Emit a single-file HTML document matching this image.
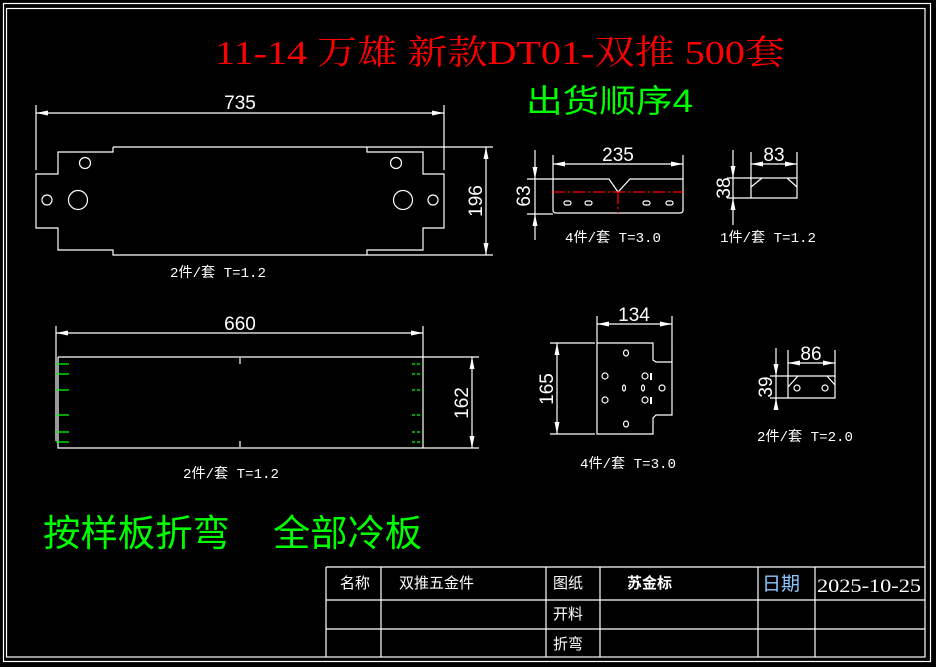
<!DOCTYPE html>
<html><head><meta charset="utf-8"><style>
html,body{margin:0;padding:0;background:#000;}
svg{display:block;}
.s{font-family:"Liberation Sans","Noto Sans CJK SC",sans-serif;}
.m{font-family:"Liberation Mono","Noto Sans CJK SC",monospace;}
.r{font-family:"Liberation Serif","Noto Serif CJK SC",serif;}
</style></head><body>
<svg width="936" height="667" viewBox="0 0 936 667" xmlns="http://www.w3.org/2000/svg">
<rect width="936" height="667" fill="#000"/>
<g fill="none" stroke="#fff" stroke-width="1.2">
<rect x="3.5" y="3.5" width="927" height="658"/>
<rect x="6.5" y="8.5" width="918.5" height="648.5"/>
<path d="M326 567H925 M326 600H925 M326 629H925 M326 567V657 M381 567V657 M546 567V657 M600 567V657 M758 567V657 M815 567V657"/>

<path d="M113 147H367 M113 147V152H58V174H36V228H58V250H113V255H367V250H423V228H444V174H423V152H367V147 M367 147H493 M367 255H493"/>
<circle cx="85" cy="163" r="5.5"/><circle cx="396" cy="163" r="5.5"/>
<circle cx="47" cy="200" r="5"/><circle cx="78" cy="200" r="9.5"/>
<circle cx="403" cy="200" r="9.5"/><circle cx="433" cy="200" r="5"/>
<path d="M36 105V170 M444 105V170 M36 113H444 M486 147V255"/>

<path d="M58 357H423V448H58V357 M56 357V441 M56 326V357 M423 326V357 M56 333H423 M423 357H479 M423 448H479 M472 357V448 M240 358V364 M240 441V447"/>

<path d="M553 179H609L618 192L630 179H683V210Q683 213 680 213H556Q553 213 553 210Z"/>
<path d="M553 155V179 M683 155V179 M553 164H683 M527 179H553 M527 214H553 M535 150V240"/>
<rect x="564" y="201" width="7" height="4" rx="2"/><rect x="585" y="201" width="7" height="4" rx="2"/>
<rect x="643" y="201" width="7" height="4" rx="2"/><rect x="666" y="201" width="7" height="4" rx="2"/>

<path d="M751 178H797V198H751Z M751 187L762 178 M787 178L797 187 M751 152V178 M797 152V178 M751 164H797 M727 178H751 M727 198H751 M733 150V225"/>

<path d="M597 343H653V360L656 362H672V415H656L653 418V434H597Z M597 316V343 M672 316V362 M597 324H672 M550 343H595 M550 434H595 M557 343V434"/>
<ellipse cx="626" cy="353" rx="2.5" ry="3"/><ellipse cx="605" cy="376" rx="3" ry="3"/>
<ellipse cx="645" cy="376" rx="3" ry="3"/><ellipse cx="624" cy="388" rx="1.5" ry="3"/>
<ellipse cx="643" cy="388" rx="1.5" ry="3"/><circle cx="662" cy="388" r="3"/>
<ellipse cx="605" cy="400" rx="3" ry="3"/><ellipse cx="645" cy="400" rx="3" ry="3"/>
<ellipse cx="626" cy="424" rx="2.5" ry="3"/>
<path d="M651 373V380 M651 397V404" stroke-width="2"/>

<path d="M788 376H835V398H788Z M788 387L798 376 M827 376L835 385 M788 350V376 M835 350V376 M788 363H835 M770 376H788 M770 398H788 M776 348V410"/>
<circle cx="797" cy="388" r="3"/><circle cx="825" cy="388" r="3"/>
</g>

<g fill="#fff">
<path d="M36 113l12-2.5v5z M444 113l-12-2.5v5z M486 147l-2.5 12h5z M486 255l-2.5-12h5z"/>
<path d="M56 333l12-2.5v5z M423 333l-12-2.5v5z M472 357l-2.5 12h5z M472 448l-2.5-12h5z"/>
<path d="M553 164l12-2.5v5z M683 164l-12-2.5v5z M535 179l-2.5-12h5z M535 214l-2.5 12h5z"/>
<path d="M751 164l12-2.5v5z M797 164l-12-2.5v5z M733 178l-2.5-12h5z M733 198l-2.5 12h5z"/>
<path d="M597 324l12-2.5v5z M672 324l-12-2.5v5z M557 343l-2.5 12h5z M557 434l-2.5-12h5z"/>
<path d="M788 363l12-2.5v5z M835 363l-12-2.5v5z M776 376l-2.5-12h5z M776 398l-2.5 12h5z"/>
</g>

<path d="M553 192H683 M618 192V213" stroke="#f00" stroke-width="1.3" stroke-dasharray="12 3 2 3" fill="none"/>

<g stroke="#0f0" stroke-width="1.2">
<path d="M56 364H69 M56 374H69 M56 390H69 M56 415H69 M56 432H69 M56 442H69"/>
<path d="M412 364H423 M412 374H423 M412 390H423 M412 415H423 M412 432H423 M412 442H423" stroke-dasharray="3 2"/>
</g>

<g class="s" fill="#fff" font-size="19" text-anchor="middle">
<text x="240" y="109">735</text>
<text x="240" y="330">660</text>
<text x="618" y="161">235</text>
<text x="774" y="161">83</text>
<text x="634" y="321">134</text>
<text x="811" y="360">86</text>
<text transform="translate(482,201) rotate(-90)">196</text>
<text transform="translate(468,403) rotate(-90)">162</text>
<text transform="translate(530,196) rotate(-90)">63</text>
<text transform="translate(730,188) rotate(-90)">38</text>
<text transform="translate(553,389) rotate(-90)">165</text>
<text transform="translate(772,387) rotate(-90)">39</text>
</g>
<g class="m" fill="#fff" font-size="14">
<text x="170" y="277" textLength="96" lengthAdjust="spacingAndGlyphs">2件/套 T=1.2</text>
<text x="183" y="478" textLength="96" lengthAdjust="spacingAndGlyphs">2件/套 T=1.2</text>
<text x="565" y="242" textLength="96" lengthAdjust="spacingAndGlyphs">4件/套 T=3.0</text>
<text x="720" y="242" textLength="96" lengthAdjust="spacingAndGlyphs">1件/套 T=1.2</text>
<text x="580" y="468" textLength="96" lengthAdjust="spacingAndGlyphs">4件/套 T=3.0</text>
<text x="757" y="441" textLength="96" lengthAdjust="spacingAndGlyphs">2件/套 T=2.0</text>
</g>

<text class="r" x="215" y="64" font-size="34" font-weight="normal" fill="#f00" textLength="570" lengthAdjust="spacingAndGlyphs">11-14 万雄 新款DT01-双推 500套</text>
<text class="s" x="526" y="112" font-size="32" fill="#0f0" textLength="167" lengthAdjust="spacingAndGlyphs">出货顺序4</text>
<text class="s" x="43" y="546" font-size="37" fill="#0f0" textLength="187" lengthAdjust="spacingAndGlyphs">按样板折弯</text>
<text class="s" x="273" y="546" font-size="37" fill="#0f0" textLength="149" lengthAdjust="spacingAndGlyphs">全部冷板</text>

<g class="s" fill="#fff" font-size="15">
<text x="340" y="588">名称</text>
<text x="399" y="588">双推五金件</text>
<text x="553" y="588">图纸</text>
<text x="627" y="588" font-weight="bold">苏金标</text>
<text x="553" y="619">开料</text>
<text x="553" y="649">折弯</text>
</g>
<text class="s" x="762" y="590" font-size="19" fill="#8ec8ff">日期</text>
<text class="r" x="817" y="592" font-size="19" fill="#fff" textLength="104" lengthAdjust="spacingAndGlyphs">2025-10-25</text>
</svg>
</body></html>
